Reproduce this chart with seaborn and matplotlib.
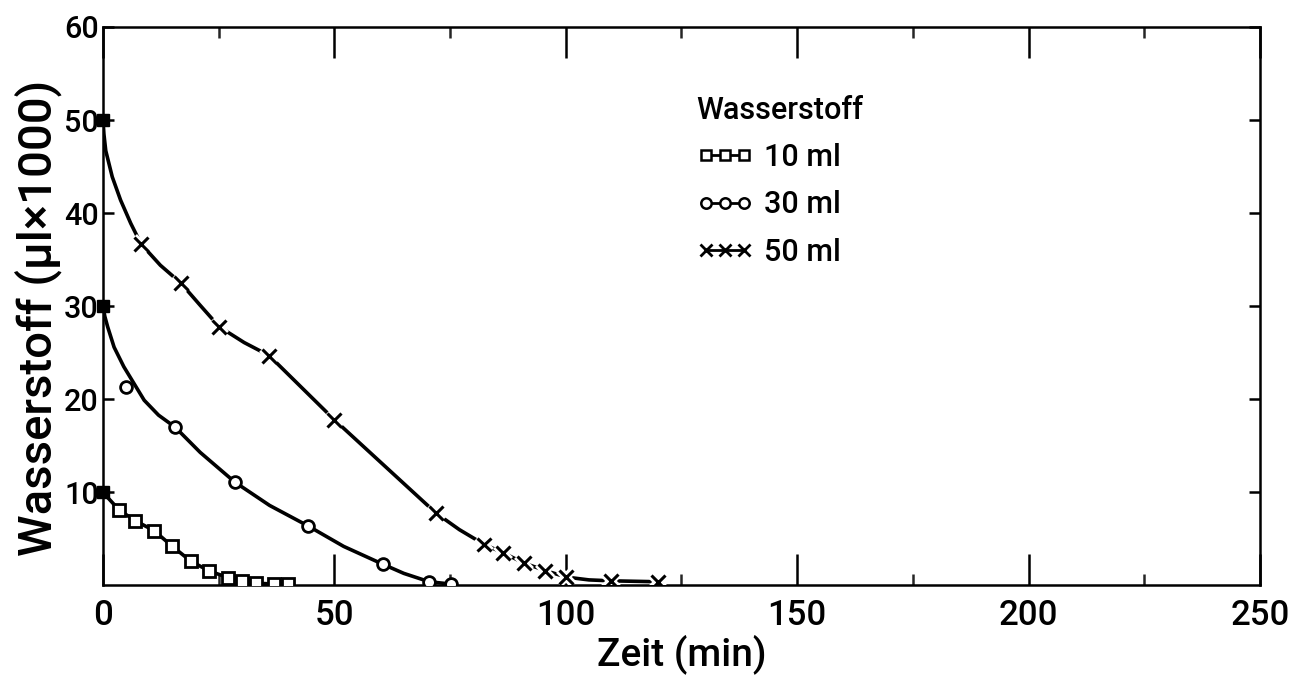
import matplotlib
matplotlib.use("Agg")
import matplotlib.pyplot as plt
import matplotlib.patheffects as pe
from matplotlib.lines import Line2D
from matplotlib.ticker import MultipleLocator
import seaborn as sns

# Messpunkte: Zeit (min) und Wasserstoff (µl x 1000)
zeit_10 = [3.5, 7, 11, 15, 19, 23, 27, 30, 33, 37, 40]
h2_10 = [8.1, 6.95, 5.9, 4.2, 2.6, 1.55, 0.85, 0.5, 0.25, 0.15, 0.15]

zeit_30 = [5, 15.6, 28.5, 44.3, 60.4, 70.5, 75.2]
h2_30 = [21.3, 17.0, 11.1, 6.4, 2.3, 0.4, 0.15]

zeit_50 = [8.2, 16.8, 25.1, 35.9, 50.0, 71.9, 82.4, 86.5, 91.0, 95.6, 100.1, 109.8, 119.9]
h2_50 = [36.7, 32.5, 27.8, 24.7, 17.8, 7.8, 4.4, 3.5, 2.4, 1.6, 0.9, 0.5, 0.4]

# Startwerte bei t = 0
start_zeit = [0, 0, 0]
start_h2 = [10, 30, 50]

# Ausgleichskurven
kurve_zeit_10 = [0, 3.5, 7, 11, 15, 19, 23, 27, 30, 33, 37, 40]
kurve_h2_10 = [10, 8.1, 6.95, 5.9, 4.2, 2.6, 1.55, 0.85, 0.5, 0.25, 0.15, 0.15]

kurve_zeit_30 = [0, 0.4, 1.0, 2.4, 4.5, 6.7, 8.9, 12, 15.6, 21, 28.5, 36, 44.3, 52, 60.4, 65, 70.5, 75.2]
kurve_h2_30 = [30, 28.9, 27.8, 25.6, 23.5, 21.7, 19.9, 18.3, 17.0, 14.3, 11.1, 8.6, 6.4, 4.2, 2.3, 1.3, 0.4, 0.15]

kurve_zeit_50 = [0, 0.2, 0.6, 2.0, 3.8, 6.0, 8.2, 12.4, 16.8, 21, 25.1, 30.5, 35.9, 50.0,
                 71.9, 77, 82.4, 86.5, 91.0, 95.6, 100.1, 105, 109.8, 119.9]
kurve_h2_50 = [50, 48.5, 46.7, 43.9, 41.4, 38.9, 36.7, 34.4, 32.5, 30.1, 27.8, 26.1, 24.7, 17.8,
               7.8, 6.0, 4.4, 3.5, 2.4, 1.6, 0.9, 0.6, 0.5, 0.4]

legende_titel = "Wasserstoff"
legende_labels = ["10 ml", "30 ml", "50 ml"]

sns.set_theme(style="ticks")
plt.rcParams["font.family"] = ["Roboto", "Liberation Sans", "DejaVu Sans"]
plt.rcParams["font.weight"] = 500
plt.rcParams["axes.labelweight"] = 500
plt.rcParams["text.color"] = "black"

fig = plt.figure(figsize=(12.89, 6.76), dpi=100)
ax = fig.add_axes([0.0799, 0.1339, 0.8976, 0.8262])

lw = 2.6
for kx, ky in [(kurve_zeit_10, kurve_h2_10), (kurve_zeit_30, kurve_h2_30), (kurve_zeit_50, kurve_h2_50)]:
    sns.lineplot(x=kx, y=ky, ax=ax, color="black", lw=lw, sort=False, estimator=None, zorder=2)

halo = [pe.Stroke(linewidth=6, foreground="white"), pe.Normal()]

sns.lineplot(x=zeit_10, y=h2_10, ax=ax, linestyle="none", marker="s", markersize=8.5,
             markerfacecolor="white", markeredgecolor="black", markeredgewidth=2.0,
             sort=False, estimator=None, zorder=3)
sns.lineplot(x=zeit_30, y=h2_30, ax=ax, linestyle="none", marker="o", markersize=8.5,
             markerfacecolor="white", markeredgecolor="black", markeredgewidth=2.0,
             sort=False, estimator=None, zorder=3)
sns.lineplot(x=zeit_50, y=h2_50, ax=ax, linestyle="none", marker="x", markersize=10,
             markeredgecolor="black", markeredgewidth=2.2, path_effects=halo,
             sort=False, estimator=None, zorder=3)
sns.lineplot(x=start_zeit, y=start_h2, ax=ax, linestyle="none", marker="s", markersize=9,
             markerfacecolor="black", markeredgecolor="black", markeredgewidth=1,
             sort=False, estimator=None, zorder=4, clip_on=False)

ax.set_xlim(0, 250)
ax.set_ylim(0, 60)
ax.xaxis.set_major_locator(MultipleLocator(50))
ax.xaxis.set_minor_locator(MultipleLocator(25))
ax.set_yticks([10, 20, 30, 40, 50, 60])

ax.tick_params(axis="x", which="major", direction="in", length=22, width=1.8,
               top=True, bottom=True, labelsize=25, pad=10, colors="black")
ax.tick_params(axis="x", which="minor", direction="in", length=8, width=1.8,
               top=True, bottom=True)
ax.tick_params(axis="y", which="major", direction="in", length=8, width=1.8,
               left=True, right=True, labelsize=22, pad=3, colors="black")

for s in ax.spines.values():
    s.set_linewidth(1.8)
    s.set_color("black")

ax.set_xlabel("Zeit (min)", fontsize=28, labelpad=1, color="black", fontweight=500)
ax.set_ylabel("Wasserstoff (µl×1000)", fontsize=34, labelpad=1, color="black", fontweight=500)
ax.yaxis.label.set_y(0.48)

handles = [
    Line2D([], [], color="black", lw=2, marker="s", markersize=7.5, markerfacecolor="white",
           markeredgecolor="black", markeredgewidth=1.8),
    Line2D([], [], color="black", lw=2, marker="o", markersize=7.5, markerfacecolor="white",
           markeredgecolor="black", markeredgewidth=1.8),
    Line2D([], [], color="black", lw=2, marker="x", markersize=8.5,
           markeredgecolor="black", markeredgewidth=2.0),
]
leg = ax.legend(handles, legende_labels, title=legende_titel, loc="upper left",
                bbox_to_anchor=(0.513, 0.877), frameon=False, fontsize=22, title_fontsize=22,
                numpoints=3, handlelength=1.85, handletextpad=0.35, labelspacing=0.6,
                borderpad=0, borderaxespad=0, alignment="left", labelcolor="black")
leg.get_title().set_color("black")

fig.savefig("out.png", dpi=100, facecolor="white")
